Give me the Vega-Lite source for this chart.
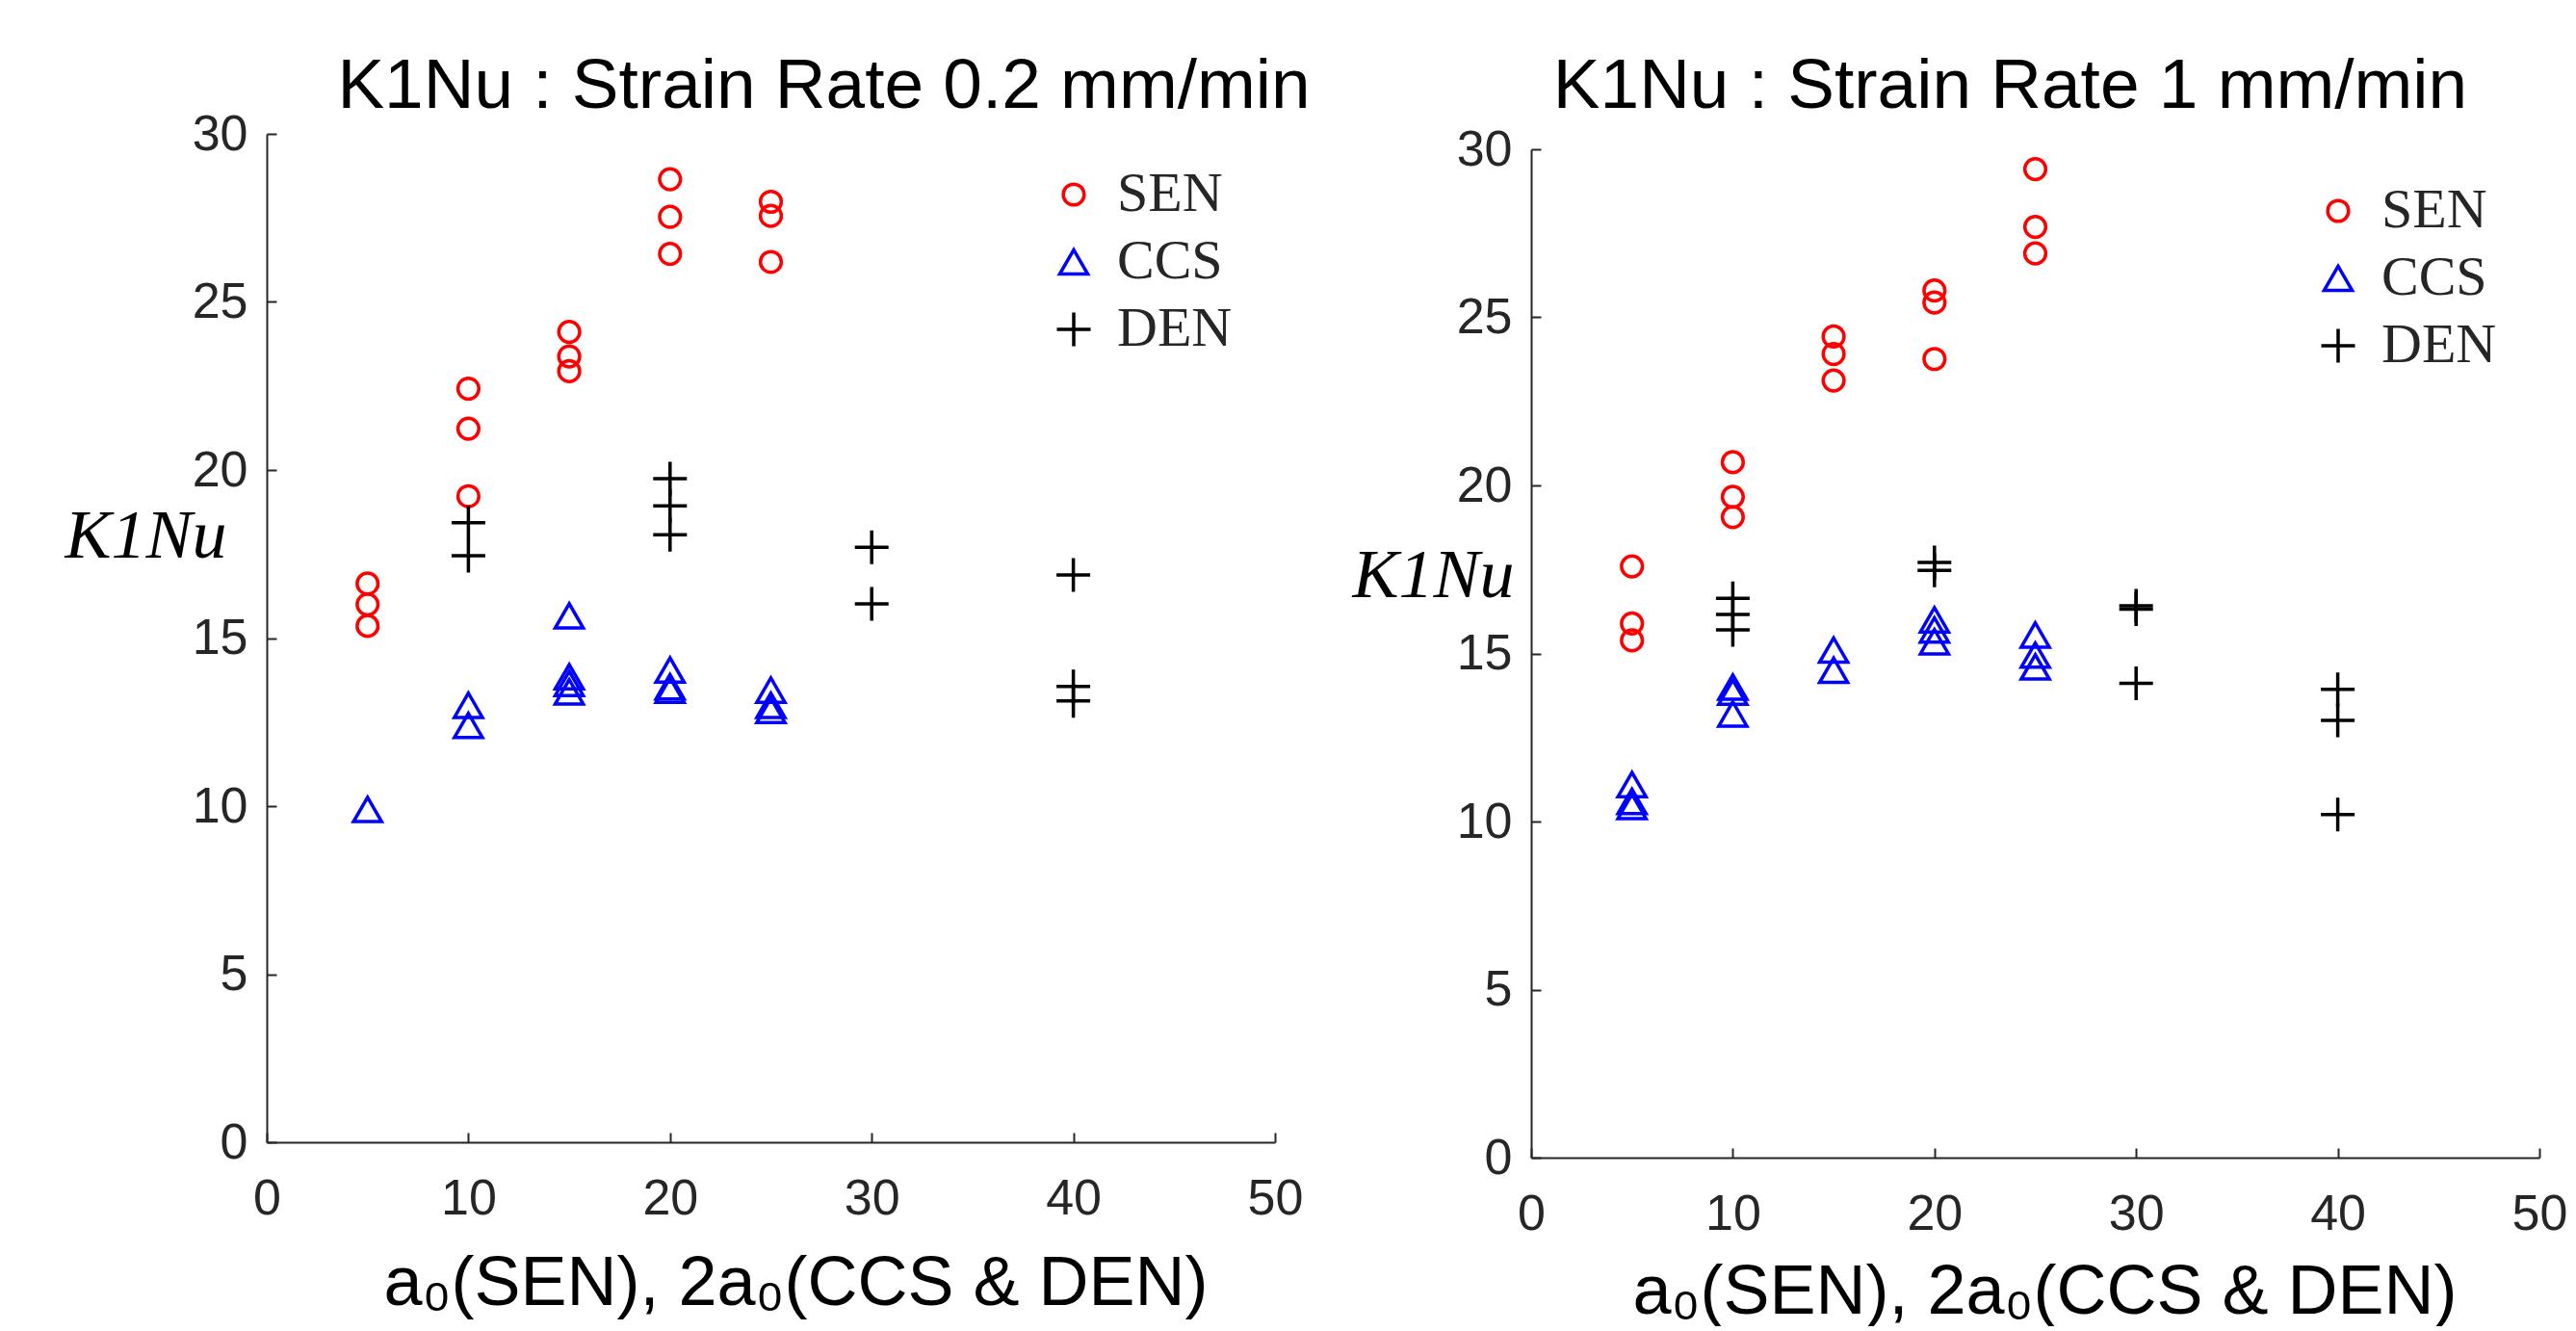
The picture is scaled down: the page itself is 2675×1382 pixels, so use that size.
{
  "$schema": "https://vega.github.io/schema/vega-lite/v6.json",
  "background": "white",
  "padding": {"left": 66, "top": 52, "right": 10, "bottom": 0},
  "spacing": 42,
  "config": {
    "view": {"stroke": null},
    "axis": {
      "grid": false,
      "domainColor": "#262626",
      "domainWidth": 2,
      "tickColor": "#262626",
      "tickWidth": 2,
      "tickSize": -10,
      "labelFont": "Liberation Sans",
      "labelFontSize": 52,
      "labelColor": "#262626",
      "labelFlush": false,
      "labelOverlap": false,
      "titleFontWeight": "normal",
      "titleColor": "#000000"
    },
    "legend": {
      "title": null,
      "orient": "none",
      "padding": 0,
      "labelFont": "Liberation Serif",
      "labelFontSize": 58,
      "labelColor": "#262626",
      "labelOffset": 16,
      "rowPadding": 12,
      "symbolStrokeWidth": 3.5
    }
  },
  "data": {
    "values": [
      {"panel": "A", "series": "SEN", "a": 5, "K": 16.62},
      {"panel": "A", "series": "SEN", "a": 5, "K": 16.0},
      {"panel": "A", "series": "SEN", "a": 5, "K": 15.36},
      {"panel": "A", "series": "SEN", "a": 10, "K": 22.42},
      {"panel": "A", "series": "SEN", "a": 10, "K": 21.23},
      {"panel": "A", "series": "SEN", "a": 10, "K": 19.22},
      {"panel": "A", "series": "SEN", "a": 15, "K": 24.11},
      {"panel": "A", "series": "SEN", "a": 15, "K": 23.38},
      {"panel": "A", "series": "SEN", "a": 15, "K": 22.94},
      {"panel": "A", "series": "SEN", "a": 20, "K": 28.65},
      {"panel": "A", "series": "SEN", "a": 20, "K": 27.53},
      {"panel": "A", "series": "SEN", "a": 20, "K": 26.43},
      {"panel": "A", "series": "SEN", "a": 25, "K": 27.98},
      {"panel": "A", "series": "SEN", "a": 25, "K": 27.56},
      {"panel": "A", "series": "SEN", "a": 25, "K": 26.19},
      {"panel": "A", "series": "CCS", "a": 5, "K": 9.9},
      {"panel": "A", "series": "CCS", "a": 10, "K": 13.0},
      {"panel": "A", "series": "CCS", "a": 10, "K": 12.4},
      {"panel": "A", "series": "CCS", "a": 15, "K": 15.66},
      {"panel": "A", "series": "CCS", "a": 15, "K": 13.85},
      {"panel": "A", "series": "CCS", "a": 15, "K": 13.65},
      {"panel": "A", "series": "CCS", "a": 15, "K": 13.4},
      {"panel": "A", "series": "CCS", "a": 20, "K": 14.05},
      {"panel": "A", "series": "CCS", "a": 20, "K": 13.55},
      {"panel": "A", "series": "CCS", "a": 20, "K": 13.45},
      {"panel": "A", "series": "CCS", "a": 25, "K": 13.45},
      {"panel": "A", "series": "CCS", "a": 25, "K": 13.0},
      {"panel": "A", "series": "CCS", "a": 25, "K": 12.85},
      {"panel": "A", "series": "DEN", "a": 10, "K": 18.43},
      {"panel": "A", "series": "DEN", "a": 10, "K": 17.45},
      {"panel": "A", "series": "DEN", "a": 20, "K": 19.74},
      {"panel": "A", "series": "DEN", "a": 20, "K": 18.93},
      {"panel": "A", "series": "DEN", "a": 20, "K": 18.07},
      {"panel": "A", "series": "DEN", "a": 30, "K": 17.7},
      {"panel": "A", "series": "DEN", "a": 30, "K": 16.02},
      {"panel": "A", "series": "DEN", "a": 40, "K": 16.88},
      {"panel": "A", "series": "DEN", "a": 40, "K": 13.56},
      {"panel": "A", "series": "DEN", "a": 40, "K": 13.13},
      {"panel": "B", "series": "SEN", "a": 5, "K": 17.59},
      {"panel": "B", "series": "SEN", "a": 5, "K": 15.89},
      {"panel": "B", "series": "SEN", "a": 5, "K": 15.39},
      {"panel": "B", "series": "SEN", "a": 10, "K": 20.69},
      {"panel": "B", "series": "SEN", "a": 10, "K": 19.66},
      {"panel": "B", "series": "SEN", "a": 10, "K": 19.06},
      {"panel": "B", "series": "SEN", "a": 15, "K": 24.43},
      {"panel": "B", "series": "SEN", "a": 15, "K": 23.91},
      {"panel": "B", "series": "SEN", "a": 15, "K": 23.12},
      {"panel": "B", "series": "SEN", "a": 20, "K": 25.8},
      {"panel": "B", "series": "SEN", "a": 20, "K": 25.44},
      {"panel": "B", "series": "SEN", "a": 20, "K": 23.76},
      {"panel": "B", "series": "SEN", "a": 25, "K": 29.41},
      {"panel": "B", "series": "SEN", "a": 25, "K": 27.69},
      {"panel": "B", "series": "SEN", "a": 25, "K": 26.9},
      {"panel": "B", "series": "CCS", "a": 5, "K": 11.1},
      {"panel": "B", "series": "CCS", "a": 5, "K": 10.6},
      {"panel": "B", "series": "CCS", "a": 5, "K": 10.45},
      {"panel": "B", "series": "CCS", "a": 10, "K": 14.0},
      {"panel": "B", "series": "CCS", "a": 10, "K": 13.85},
      {"panel": "B", "series": "CCS", "a": 10, "K": 13.2},
      {"panel": "B", "series": "CCS", "a": 15, "K": 15.1},
      {"panel": "B", "series": "CCS", "a": 15, "K": 14.5},
      {"panel": "B", "series": "CCS", "a": 20, "K": 16.0},
      {"panel": "B", "series": "CCS", "a": 20, "K": 15.7},
      {"panel": "B", "series": "CCS", "a": 20, "K": 15.35},
      {"panel": "B", "series": "CCS", "a": 25, "K": 15.55},
      {"panel": "B", "series": "CCS", "a": 25, "K": 14.95},
      {"panel": "B", "series": "CCS", "a": 25, "K": 14.6},
      {"panel": "B", "series": "DEN", "a": 10, "K": 16.64},
      {"panel": "B", "series": "DEN", "a": 10, "K": 16.16},
      {"panel": "B", "series": "DEN", "a": 10, "K": 15.7},
      {"panel": "B", "series": "DEN", "a": 20, "K": 17.71},
      {"panel": "B", "series": "DEN", "a": 20, "K": 17.47},
      {"panel": "B", "series": "DEN", "a": 30, "K": 16.42},
      {"panel": "B", "series": "DEN", "a": 30, "K": 16.32},
      {"panel": "B", "series": "DEN", "a": 30, "K": 14.11},
      {"panel": "B", "series": "DEN", "a": 40, "K": 13.93},
      {"panel": "B", "series": "DEN", "a": 40, "K": 13.01},
      {"panel": "B", "series": "DEN", "a": 40, "K": 10.21}
    ]
  },
  "resolve": {
    "scale": {"x": "independent", "y": "independent", "color": "independent", "shape": "independent", "size": "independent"},
    "legend": {"color": "independent", "shape": "independent", "size": "independent"}
  },
  "hconcat": [
    {
      "spacing": 0,
      "resolve": {
        "scale": {"x": "independent", "y": "independent", "color": "independent", "shape": "independent", "size": "independent"},
        "legend": {"color": "independent", "shape": "independent", "size": "independent"}
      },
      "vconcat": [
        {
          "data": {"values": []},
          "width": 1047,
          "height": 1,
          "mark": {"type": "point", "opacity": 0},
          "encoding": {}
        },
        {
          "width": 1047,
          "height": 1047,
          "title": {
            "text": "K1Nu : Strain Rate 0.2 mm/min",
            "frame": "group",
            "anchor": "middle",
            "baseline": "top",
            "offset": -13.5,
            "dx": 55,
            "font": "Liberation Sans",
            "fontSize": 73,
            "fontWeight": "normal",
            "color": "#000000"
          },
          "transform": [{"filter": "datum.panel === 'A'"}],
          "mark": {"type": "point", "filled": false, "strokeWidth": 3.5, "opacity": 1},
          "encoding": {
            "x": {
              "field": "a", "type": "quantitative",
              "scale": {"domain": [0, 50], "nice": false, "zero": true},
              "axis": {
                "values": [0, 10, 20, 30, 40, 50],
                "labelPadding": 43,
                "title": "a₀(SEN), 2a₀(CCS & DEN)",
                "titleFont": "Liberation Sans",
                "titleFontSize": 72,
                "titleAlign": "center",
                "titleBaseline": "alphabetic",
                "titleX": 549,
                "titleY": 168
              }
            },
            "y": {
              "field": "K", "type": "quantitative",
              "scale": {"domain": [0, 30], "nice": false, "zero": true},
              "axis": {
                "values": [0, 5, 10, 15, 20, 25, 30],
                "labelPadding": 30,
                "title": "K1Nu",
                "titleFont": "Liberation Serif",
                "titleFontStyle": "italic",
                "titleFontSize": 72,
                "titleAngle": 0,
                "titleAlign": "center",
                "titleBaseline": "alphabetic",
                "titleX": -126,
                "titleY": 439
              }
            },
            "color": {
              "field": "series", "type": "nominal",
              "scale": {"domain": ["SEN", "CCS", "DEN"], "range": ["#ff0000", "#0000ff", "#000000"]},
              "legend": {"legendX": 809, "legendY": 34}
            },
            "shape": {
              "field": "series", "type": "nominal",
              "scale": {"domain": ["SEN", "CCS", "DEN"], "range": ["circle", "triangle-up", "M-1,0L1,0M0,-1L0,1"]},
              "legend": {"legendX": 809, "legendY": 34}
            },
            "size": {
              "field": "series", "type": "nominal",
              "scale": {"domain": ["SEN", "CCS", "DEN"], "range": [470, 1225, 729]},
              "legend": {"legendX": 809, "legendY": 34}
            }
          }
        }
      ]
    },
    {
      "spacing": 0,
      "resolve": {
        "scale": {"x": "independent", "y": "independent", "color": "independent", "shape": "independent", "size": "independent"},
        "legend": {"color": "independent", "shape": "independent", "size": "independent"}
      },
      "vconcat": [
        {
          "data": {"values": []},
          "width": 1047,
          "height": 1,
          "mark": {"type": "point", "opacity": 0},
          "encoding": {}
        },
        {
          "width": 1047,
          "height": 1047,
          "title": {
            "text": "K1Nu : Strain Rate 1 mm/min",
            "frame": "group",
            "anchor": "middle",
            "baseline": "top",
            "offset": 2.5,
            "dx": -26,
            "font": "Liberation Sans",
            "fontSize": 73,
            "fontWeight": "normal",
            "color": "#000000"
          },
          "transform": [{"filter": "datum.panel === 'B'"}],
          "mark": {"type": "point", "filled": false, "strokeWidth": 3.5, "opacity": 1},
          "encoding": {
            "x": {
              "field": "a", "type": "quantitative",
              "scale": {"domain": [0, 50], "nice": false, "zero": true},
              "axis": {
                "values": [0, 10, 20, 30, 40, 50],
                "labelPadding": 43,
                "title": "a₀(SEN), 2a₀(CCS & DEN)",
                "titleFont": "Liberation Sans",
                "titleFontSize": 72,
                "titleAlign": "center",
                "titleBaseline": "alphabetic",
                "titleX": 533,
                "titleY": 161
              }
            },
            "y": {
              "field": "K", "type": "quantitative",
              "scale": {"domain": [0, 30], "nice": false, "zero": true},
              "axis": {
                "values": [0, 5, 10, 15, 20, 25, 30],
                "labelPadding": 30,
                "title": "K1Nu",
                "titleFont": "Liberation Serif",
                "titleFontStyle": "italic",
                "titleFontSize": 72,
                "titleAngle": 0,
                "titleAlign": "center",
                "titleBaseline": "alphabetic",
                "titleX": -102,
                "titleY": 464
              }
            },
            "color": {
              "field": "series", "type": "nominal",
              "scale": {"domain": ["SEN", "CCS", "DEN"], "range": ["#ff0000", "#0000ff", "#000000"]},
              "legend": {"legendX": 809, "legendY": 35}
            },
            "shape": {
              "field": "series", "type": "nominal",
              "scale": {"domain": ["SEN", "CCS", "DEN"], "range": ["circle", "triangle-up", "M-1,0L1,0M0,-1L0,1"]},
              "legend": {"legendX": 809, "legendY": 35}
            },
            "size": {
              "field": "series", "type": "nominal",
              "scale": {"domain": ["SEN", "CCS", "DEN"], "range": [470, 1225, 729]},
              "legend": {"legendX": 809, "legendY": 35}
            }
          }
        }
      ]
    }
  ]
}
